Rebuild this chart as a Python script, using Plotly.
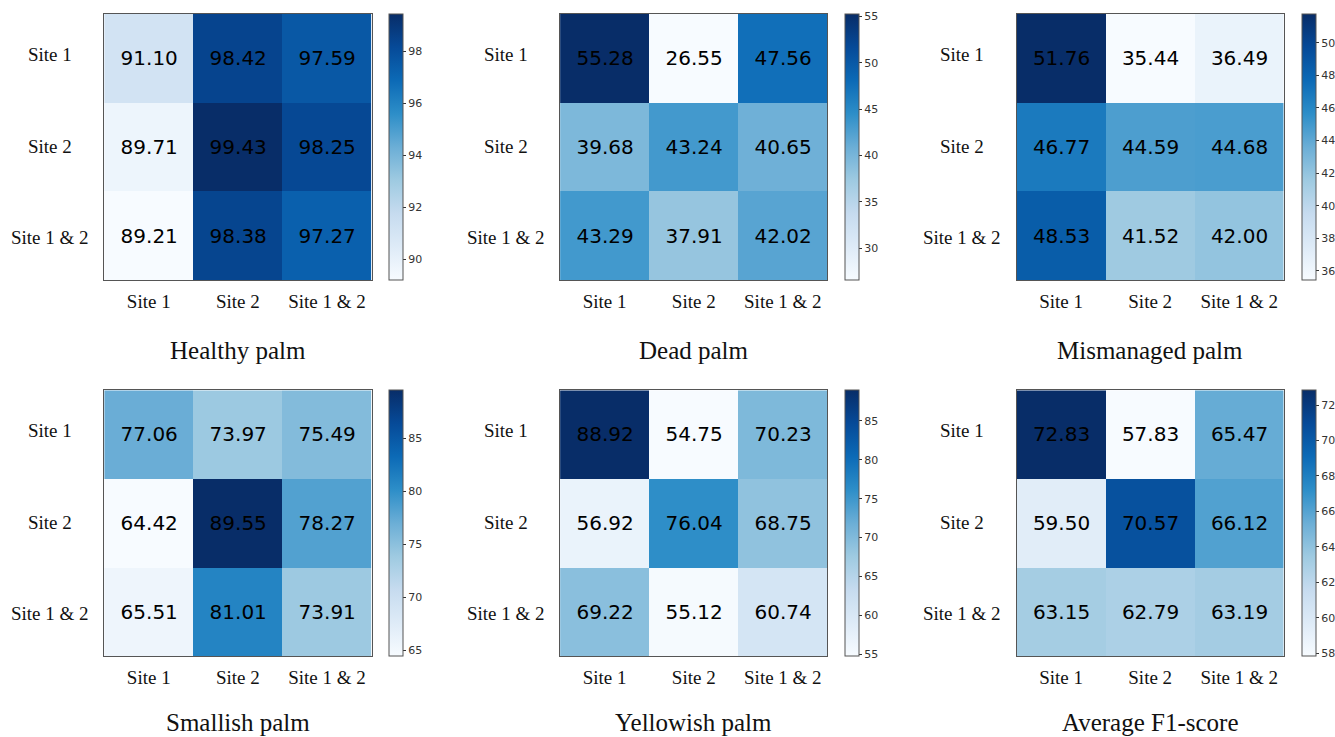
import plotly.graph_objects as go

# Confusion-style F1 heatmaps: rows = training site, columns = test site
sites = ["Site 1", "Site 2", "Site 1 & 2"]

titles = ["Healthy palm", "Dead palm", "Mismanaged palm",
          "Smallish palm", "Yellowish palm", "Average F1-score"]

healthy = [[91.10, 98.42, 97.59],
           [89.71, 99.43, 98.25],
           [89.21, 98.38, 97.27]]
dead = [[55.28, 26.55, 47.56],
        [39.68, 43.24, 40.65],
        [43.29, 37.91, 42.02]]
mismanaged = [[51.76, 35.44, 36.49],
              [46.77, 44.59, 44.68],
              [48.53, 41.52, 42.00]]
smallish = [[77.06, 73.97, 75.49],
            [64.42, 89.55, 78.27],
            [65.51, 81.01, 73.91]]
yellowish = [[88.92, 54.75, 70.23],
             [56.92, 76.04, 68.75],
             [69.22, 55.12, 60.74]]
average_f1 = [[72.83, 57.83, 65.47],
              [59.50, 70.57, 66.12],
              [63.15, 62.79, 63.19]]

colorbar_ticks = [
    [90, 92, 94, 96, 98],
    [30, 35, 40, 45, 50, 55],
    [36, 38, 40, 42, 44, 46, 48, 50],
    [65, 70, 75, 80, 85],
    [55, 60, 65, 70, 75, 80, 85],
    [58, 60, 62, 64, 66, 68, 70, 72],
]

matrices = [healthy, dead, mismanaged, smallish, yellowish, average_f1]

blues = [
    [0.000, "rgb(247,251,255)"],
    [0.125, "rgb(222,235,247)"],
    [0.250, "rgb(198,219,239)"],
    [0.375, "rgb(158,202,225)"],
    [0.500, "rgb(107,174,214)"],
    [0.625, "rgb(45,142,200)"],
    [0.750, "rgb(12,106,182)"],
    [0.875, "rgb(6,74,152)"],
    [1.000, "rgb(8,45,104)"],
]

W, H = 1335, 737
col_left = [104.3, 560.5, 1017.3]
panel_w = 267.5
row_top = [14.0, 390.3]
panel_h = 266.0
cbar_gap = 17.3
cbar_thick = 14
serif = "Liberation Serif, Times New Roman, serif"
sans = "DejaVu Sans, sans-serif"
frame = "#555555"
row_label_shift = [4, 1, -2]

fig = go.Figure()
annotations = []

for i, (z, title, ticks) in enumerate(zip(matrices, titles, colorbar_ticks)):
    r, c = divmod(i, 3)
    n = i + 1
    xs = "" if n == 1 else str(n)
    x0 = col_left[c] / W
    x1 = (col_left[c] + panel_w) / W
    y1 = 1 - row_top[r] / H
    y0 = 1 - (row_top[r] + panel_h) / H
    flat = [v for row in z for v in row]

    fig.add_trace(go.Heatmap(
        z=z, x=sites, y=sites,
        zmin=min(flat), zmax=max(flat),
        colorscale=blues,
        texttemplate="%{z:.2f}",
        textfont=dict(family=sans, size=20, color="#000000"),
        xaxis="x" + xs, yaxis="y" + xs,
        hoverinfo="skip",
        colorbar=dict(
            x=(col_left[c] + panel_w + cbar_gap) / W, xanchor="left", xpad=0,
            y=(y0 + y1) / 2, yanchor="middle", ypad=0,
            len=y1 - y0, lenmode="fraction",
            thickness=cbar_thick, thicknessmode="pixels",
            outlinecolor=frame, outlinewidth=1,
            tickmode="array", tickvals=ticks,
            ticks="outside", ticklen=3, tickwidth=1, tickcolor="#333333",
            tickfont=dict(family=sans, size=11, color="#333333"),
        ),
    ))

    fig.layout["xaxis" + xs] = dict(
        domain=[x0, x1], anchor="y" + xs,
        showline=True, mirror=True, linecolor=frame, linewidth=1,
        showgrid=False, zeroline=False, ticks="",
        tickfont=dict(family=serif, size=19, color="#111111"),
        ticklabelstandoff=4,
    )
    fig.layout["yaxis" + xs] = dict(
        domain=[y0, y1], anchor="x" + xs, autorange="reversed",
        showline=True, mirror=True, linecolor=frame, linewidth=1,
        showgrid=False, zeroline=False, ticks="", showticklabels=False,
    )

    # row labels, centred in the left margin of each panel
    for s, dy in zip(sites, row_label_shift):
        annotations.append(dict(
            text=s, xref="x" + xs + " domain", x=-54.4 / panel_w,
            yref="y" + xs, y=s, xanchor="center", yanchor="middle",
            yshift=dy,
            showarrow=False, font=dict(family=serif, size=19, color="#111111"),
        ))

    # panel caption below the column labels
    cap_y = 350 if r == 0 else 722
    annotations.append(dict(
        text=title, xref="x" + xs + " domain", x=0.5,
        yref="paper", y=1 - cap_y / H, xanchor="center", yanchor="middle",
        showarrow=False, font=dict(family=serif, size=25, color="#111111"),
    ))

fig.update_layout(
    width=W, height=H, autosize=False,
    margin=dict(l=0, r=0, t=0, b=0),
    paper_bgcolor="white", plot_bgcolor="white",
    annotations=annotations,
    showlegend=False,
)

fig.write_html("out.html")
